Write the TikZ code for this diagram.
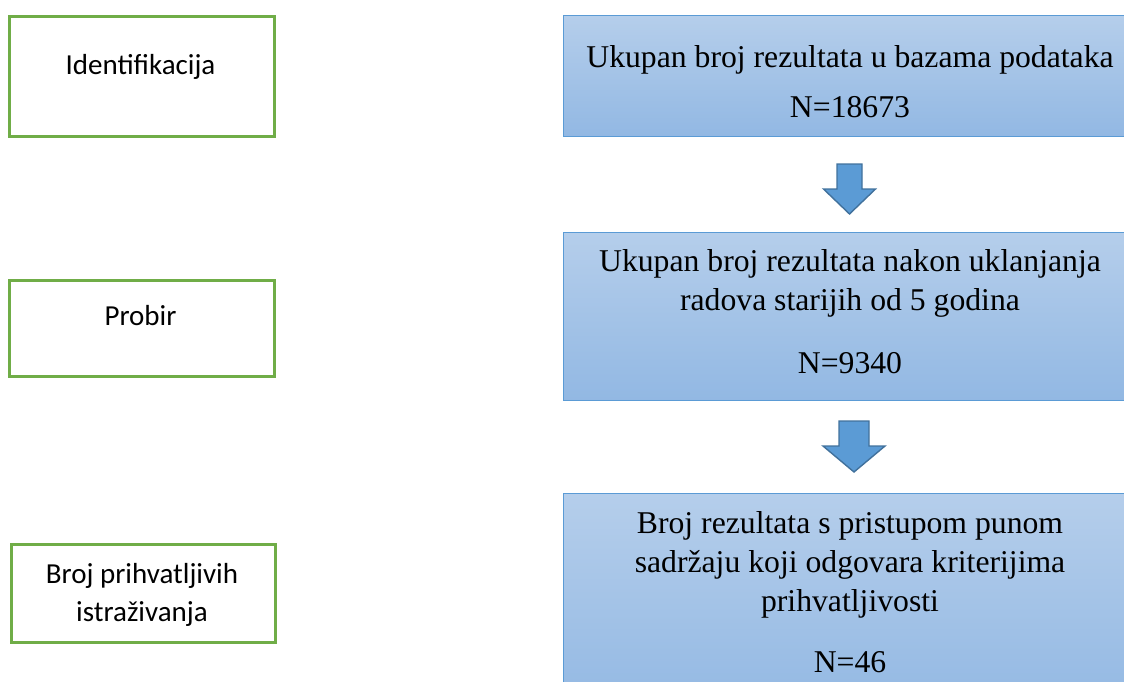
\documentclass[tikz,border=0pt]{standalone}
\usepackage{fontspec}
\setmainfont{Liberation Serif}
\newfontfamily\calibri{Carlito}
\definecolor{stagegreen}{RGB}{112,173,71}
\definecolor{flowblue}{RGB}{91,155,213}
\definecolor{flowtop}{RGB}{181,206,235}
\definecolor{flowbottom}{RGB}{146,184,227}
\definecolor{arrowedge}{RGB}{65,113,156}

\begin{document}
\begin{tikzpicture}[x=1pt, y=-1pt,
  stagebox/.style={draw=stagegreen, line width=2.6pt, anchor=north west, inner sep=0},
  countbox/.style={draw=flowblue, line width=1.3pt, top color=flowtop, bottom color=flowbottom, anchor=north west, inner sep=0, minimum width=600},
  stagetext/.style={font=\calibri\fontsize{29}{38}\selectfont, align=center, anchor=base, inner sep=0},
  counttext/.style={font=\fontsize{31.7}{39}\selectfont, align=center, anchor=base, inner sep=0},
  downarrow/.style={draw=arrowedge, fill=flowblue, line width=1.4pt, line join=miter}]
\useasboundingbox (0,0) rectangle (1124,682);
\clip (0,0) rectangle (1124,682);

% Stages (left column)
\node[stagebox, minimum width=265, minimum height=120] (ident) at (8,15) {};
\node[stagetext] (identtxt) at (140.5,75) {Identifikacija};

\node[stagebox, minimum width=265, minimum height=96] (probir) at (8,279) {};
\node[stagetext] (probirtxt) at (140.5,325) {Probir};

\node[stagebox, minimum width=264, minimum height=98] (broj) at (10,543) {};
\node[stagetext] (brojtxt) at (142,621) {Broj prihvatljivih\\istraživanja};

% Counts (right column), text placed by its last baseline
\node[countbox, minimum height=121] (total) at (563,15) {};
\node[counttext] (totaltxt) at (850,118) {Ukupan broj rezultata u bazama podataka\\[12pt]N=18673};

\node[countbox, minimum height=168] (recent) at (563,232) {};
\node[counttext] (recenttxt) at (850,373) {Ukupan broj rezultata nakon uklanjanja\\radova starijih od 5 godina\\[24pt]N=9340};

\node[countbox, minimum height=220] (eligible) at (563,493) {};
\node[counttext] (eligibletxt) at (850,672) {Broj rezultata s pristupom punom\\sadržaju koji odgovara kriterijima\\prihvatljivosti\\[22pt]N=46};

% Arrows
\coordinate (arr1) at (849.5,164);
\draw[downarrow] (arr1) ++(-12.5,0) -- ++(25,0) -- ++(0,25) -- ++(13.5,0) -- ++(-26,25) -- ++(-26,-25) -- ++(13.5,0) -- cycle;

\coordinate (arr2) at (854,421);
\draw[downarrow] (arr2) ++(-15,0) -- ++(30,0) -- ++(0,25) -- ++(16,0) -- ++(-31,26) -- ++(-31,-26) -- ++(16,0) -- cycle;
\end{tikzpicture}
\end{document}
